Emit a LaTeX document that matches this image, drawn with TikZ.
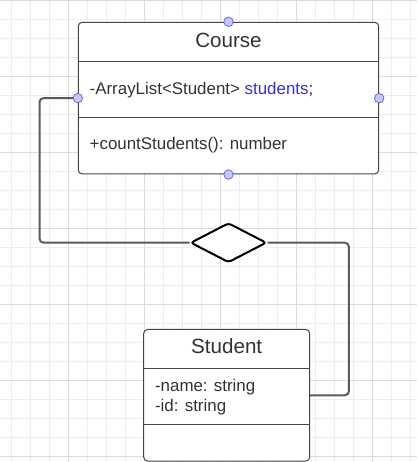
\documentclass[tikz,border=0pt]{standalone}
\usepackage{fontspec}
\setmainfont{Liberation Sans}
\usetikzlibrary{calc,positioning,shapes.geometric,backgrounds}
\definecolor{gridminor}{HTML}{EDEDED}
\definecolor{gridmajor}{HTML}{DCDCDC}
\definecolor{inktext}{HTML}{333333}
\definecolor{boxline}{HTML}{454545}
\definecolor{connline}{HTML}{5A5A5A}
\definecolor{namecol}{HTML}{3333CC}
\definecolor{dotfill}{HTML}{C8C8FF}
\definecolor{dotline}{HTML}{6666EE}
\tikzset{
  umlbox/.style={draw=boxline, line width=1pt, rounded corners=4pt, fill=white, inner sep=0pt},
  classname/.style={font=\fontsize{20.6}{24}\selectfont, text=inktext, inner sep=0pt, anchor=base},
  member/.style={font=\fontsize{16.9}{20.3}\selectfont, text=inktext, inner sep=0pt, anchor=base west},
  conn/.style={draw=connline, line width=2pt, rounded corners=4pt},
  hub/.style={draw=dotline, fill=dotfill, line width=0.8pt}
}

\begin{document}
\begin{tikzpicture}[x=1pt,y=1pt]
            \useasboundingbox (0,0) rectangle (417,-462);
            \fill[white] (0,0) rectangle (417,-462);
            % grid
            \foreach \i in {0,...,21}
                \draw[gridminor, line width=0.8pt] (11.7+19*\i,0) -- (11.7+19*\i,-462);
            \foreach \j in {0,...,24}
                \draw[gridminor, line width=0.8pt] (0,-19*\j) -- (417,-19*\j);
            \foreach \i in {0,...,4}
                \draw[gridmajor, line width=0.8pt] (68.7+76*\i,0) -- (68.7+76*\i,-462);
            \foreach \j in {0,...,6}
                \draw[gridmajor, line width=0.8pt] (0,-76*\j) -- (417,-76*\j);

            \node[umlbox, minimum width=300.4pt, minimum height=151.7pt] (course) at (228.5,-98.15) {};
            \node[diamond, draw=black, line width=2pt, rounded corners=3pt, fill=white,
                  minimum width=76pt, minimum height=39.6pt, inner sep=0pt,
                  below=47.4pt of course] (agg) {};
            \node[umlbox, minimum width=166pt, minimum height=131.7pt,
                  below=65.4pt of agg, xshift=-1.8pt] (student) {};

            % compartments
            \draw[boxline, line width=1pt] ($(course.north west)+(0,-40)$) -- ($(course.north east)+(0,-40)$);
            \draw[boxline, line width=1pt] ($(course.north west)+(0,-95.7)$) -- ($(course.north east)+(0,-95.7)$);
            \draw[boxline, line width=1pt] ($(student.north west)+(0,-40)$) -- ($(student.north east)+(0,-40)$);
            \draw[boxline, line width=1pt] ($(student.north west)+(0,-96)$) -- ($(student.north east)+(0,-96)$);

            \node[classname] (coursetitle) at ($(course.north)+(0,-25.4)$) {Course};
            \node[member] (courseattr) at ($(course.north west)+(11.7,-72.7)$) {-ArrayList<Student> \textcolor{namecol}{students};};
            \node[member] (coursemethod) at ($(course.north west)+(11.7,-128.2)$) {+countStudents(): number};

            \node[classname] (studenttitle) at ($(student.north)+(0,-25)$) {Student};
            \node[member] (studentname) at ($(student.north west)+(11.7,-62.4)$) {-name: string};
            \node[member] (studentid) at ($(student.north west)+(11.7,-82.7)$) {-id: string};

            % aggregation
            \coordinate (leftbend) at ($(course.west)+(-38.3,0)$);
            \coordinate (rightbend) at ($(student.east)+(38.7,0)$);
            \draw[conn] (course.west) -- (leftbend) |- (agg.west);
            \draw[conn] (agg.east) -| (rightbend) -- (student.east);

            \foreach \a in {north,south,east,west}
                \draw[hub] (course.\a) circle (4.7pt);
        \end{tikzpicture}
\end{document}
